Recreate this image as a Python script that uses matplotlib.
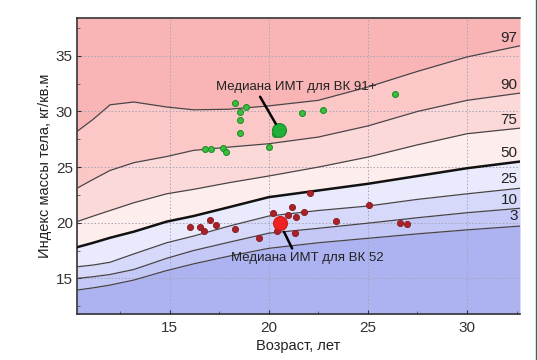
import numpy as np
import matplotlib
matplotlib.use("Agg")
import matplotlib.pyplot as plt
from matplotlib.lines import Line2D

plt.rcParams['font.family'] = ['Liberation Sans', 'DejaVu Sans']

# Percentile curves of BMI by age
ages = [10.33, 11.15, 12.0, 13.2, 14.85, 16.2, 18.0, 20.0, 22.5, 25.0, 27.5, 30.0, 32.67]
p97 = [28.2, 29.3, 30.6, 30.85, 30.4, 30.15, 30.2, 30.5, 31.0, 32.2, 33.6, 34.9, 35.9]
p90 = [23.1, 23.9, 24.7, 25.4, 25.95, 26.5, 26.8, 27.1, 27.7, 28.7, 30.0, 31.0, 31.65]
p75 = [20.1, 20.6, 21.1, 21.8, 22.6, 23.0, 23.6, 24.2, 25.0, 25.9, 27.0, 28.0, 28.5]
p50 = [17.8, 18.2, 18.65, 19.2, 20.1, 20.6, 21.4, 22.3, 22.9, 23.5, 24.2, 24.9, 25.5]
p25 = [16.04, 16.2, 16.45, 17.2, 18.2, 18.8, 19.7, 20.6, 21.1, 21.5, 22.1, 22.6, 23.1]
p10 = [15.0, 15.15, 15.35, 15.8, 16.8, 17.5, 18.25, 19.06, 19.5, 19.96, 20.45, 20.9, 21.3]
p3 = [13.95, 14.15, 14.4, 14.85, 15.7, 16.3, 17.0, 17.7, 18.2, 18.6, 19.0, 19.36, 19.7]
pct_names = ['97', '90', '75', '50', '25', '10', '3']
pct_label_y = [36.6, 32.4, 29.2, 26.3, 23.9, 22.0, 20.6]

# Group "ВК 91+"
g91_age = [18.28, 18.87, 18.54, 18.54, 18.57, 20.0, 20.3, 21.7, 22.74, 26.38,
           16.77, 17.1, 17.7, 17.83]
g91_bmi = [30.76, 30.4, 29.97, 29.25, 28.1, 26.85, 27.95, 29.86, 30.15, 31.6,
           26.65, 26.6, 26.76, 26.4]
g91_median = (20.53, 28.35)

# Group "ВК 52"
g52_age = [16.01, 16.55, 16.72, 17.05, 17.35, 18.3, 19.5, 20.2, 21.15, 20.98,
           21.4, 21.77, 22.1, 20.42, 21.3, 23.4, 25.06, 26.6, 26.95]
g52_bmi = [19.6, 19.66, 19.24, 20.29, 19.81, 19.48, 18.67, 20.92, 21.4, 20.7,
           20.56, 20.98, 22.66, 19.24, 19.06, 20.17, 21.6, 20.02, 19.9]
g52_median = (20.56, 19.96)

xlim = (10.33, 32.67)
ylim = (11.8, 38.4)

fig = plt.figure(figsize=(5.38, 3.6), dpi=100)
ax = fig.add_axes([0.1431, 0.1278, 0.8234, 0.8222])

bands = [p97, p90, p75, p50, p25, p10, p3]
band_colors = ['#f9b5b6', '#fbc7c7', '#fcd9d9', '#feeded',
               '#e9ebfc', '#d6d9f9', '#c3c8f6', '#adb3f1']
ax.fill_between(ages, p97, ylim[1], color=band_colors[0], lw=0)
for i in range(len(bands) - 1):
    ax.fill_between(ages, bands[i + 1], bands[i], color=band_colors[i + 1], lw=0)
ax.fill_between(ages, ylim[0], p3, color=band_colors[-1], lw=0)

for name, curve in zip(pct_names, bands):
    if name == '50':
        ax.plot(ages, curve, color='#111111', lw=1.8, zorder=3)
    else:
        ax.plot(ages, curve, color='#4a4448', lw=0.9, zorder=3)

for name, ly in zip(pct_names, pct_label_y):
    ax.text(32.55, ly, name, ha='right', va='center', fontsize=11, color='#222222')

ax.scatter(g91_age, g91_bmi, s=18, color='#3cc03c', edgecolors='#1f8f2a',
           linewidths=0.8, zorder=4)
ax.scatter([g91_median[0]], [g91_median[1]], s=100, color='#1fb03a',
           edgecolors='#168a2a', linewidths=0.8, zorder=5)
ax.scatter(g52_age, g52_bmi, s=20, color='#a82228', edgecolors='#8a1a1e',
           linewidths=0.6, zorder=4)
ax.scatter([g52_median[0]], [g52_median[1]], s=100, color='#ee2222',
           edgecolors='#cc1a1a', linewidths=0.8, zorder=5)

ax.annotate('Медиана ИМТ для ВК 91+', xy=g91_median, xytext=(21.39, 32.22),
            ha='center', va='center', fontsize=9.5, color='#222222', zorder=6,
            arrowprops=dict(arrowstyle='-', color='black', lw=1.8,
                            relpos=(0.26, 0.0), shrinkA=1, shrinkB=5))
ax.annotate('Медиана ИМТ для ВК 52', xy=g52_median, xytext=(21.97, 16.79),
            ha='center', va='center', fontsize=9.5, color='#222222', zorder=6,
            arrowprops=dict(arrowstyle='-', color='black', lw=1.8,
                            relpos=(0.41, 1.0), shrinkA=1, shrinkB=7))

ax.set_xlim(*xlim)
ax.set_ylim(*ylim)
ax.set_xticks([15, 20, 25, 30])
ax.set_yticks([15, 20, 25, 30, 35])
ax.set_xticks(np.arange(12.5, 32.6, 2.5), minor=True)
ax.set_yticks(np.arange(12.5, 38.4, 2.5), minor=True)
ax.tick_params(which='major', direction='in', length=3, labelsize=11,
               colors='#333333', pad=3)
ax.tick_params(axis='x', which='major', pad=5)
ax.tick_params(which='minor', direction='in', length=2, colors='#555555')
ax.grid(True, which='major', color='#a5a5b5', lw=0.7, linestyle=(0, (1.5, 2)))

ax.set_xlabel('Возраст, лет', fontsize=10.5, color='#222222', labelpad=3)
ax.set_ylabel('Индекс массы тела, кг/кв.м', fontsize=10.5, color='#222222', labelpad=3)

for side in ['left', 'bottom', 'top']:
    ax.spines[side].set_color('#333333')
    ax.spines[side].set_linewidth(1.2)
ax.spines['right'].set_visible(False)

fig.add_artist(Line2D([535.5 / 538, 535.5 / 538], [0, 1], transform=fig.transFigure,
                      color='#555555', lw=1))

fig.savefig('out.png', dpi=100)
